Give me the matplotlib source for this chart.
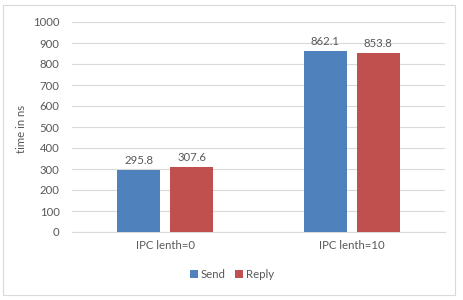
import matplotlib
matplotlib.use("Agg")
import matplotlib.pyplot as plt
import numpy as np
from matplotlib.patches import Rectangle

categories = ["IPC lenth=0", "IPC lenth=10"]
send = [295.8, 862.1]
reply = [307.6, 853.8]
series_names = ["Send", "Reply"]
yticks = [0, 100, 200, 300, 400, 500, 600, 700, 800, 900, 1000]

plt.rcParams['font.family'] = ['Lato', 'DejaVu Sans']
txt = '#595959'
fs = 8.2

fig = plt.figure(figsize=(4.63, 3.0), dpi=100)
fig.patches.append(Rectangle((3/463, 5/300), 452/463, 290/300, transform=fig.transFigure,
                             fill=False, edgecolor='#D9D9D9', linewidth=0.8))
ax = fig.add_axes([72/463, 1 - 232/300, (445 - 72)/463, (232 - 22)/300])

x = np.arange(len(categories))
w = 0.23
gap = 0.054
off = (w + gap) / 2
b1 = ax.bar(x - off, send, w, color='#4F81BD', label=series_names[0], zorder=3)
b2 = ax.bar(x + off, reply, w, color='#C0504D', label=series_names[1], zorder=3)
for bars in (b1, b2):
    for r in bars:
        h = r.get_height()
        ax.text(r.get_x() + r.get_width() / 2, h + 20, f"{h:.1f}", ha='center', va='bottom',
                fontsize=fs, color=txt)

ax.set_xlim(-0.5, 1.5)
ax.set_ylim(0, 1000)
ax.set_yticks(yticks)
ax.set_yticklabels([str(t) for t in yticks], fontsize=fs, color=txt)
ax.set_xticks(x)
ax.set_xticklabels(categories, fontsize=fs, color=txt)
ax.tick_params(length=0, pad=9)
ax.tick_params(axis='x', pad=6)
ax.yaxis.grid(True, color='#D9D9D9', linewidth=0.8, zorder=0)
for s in ['top', 'right', 'left']:
    ax.spines[s].set_visible(False)
ax.spines['bottom'].set_color('#D9D9D9')
ax.set_ylabel("time in ns", fontsize=fs, color=txt)
ax.yaxis.set_label_coords(-45/373, 0.49)

fig.legend(loc='center', bbox_to_anchor=(232/463, 1 - 274/300), ncol=2, frameon=False,
           fontsize=fs, handlelength=0.7, handleheight=0.7, handletextpad=0.3, columnspacing=0.8,
           labelcolor=txt)

fig.savefig("out.png", dpi=100)
